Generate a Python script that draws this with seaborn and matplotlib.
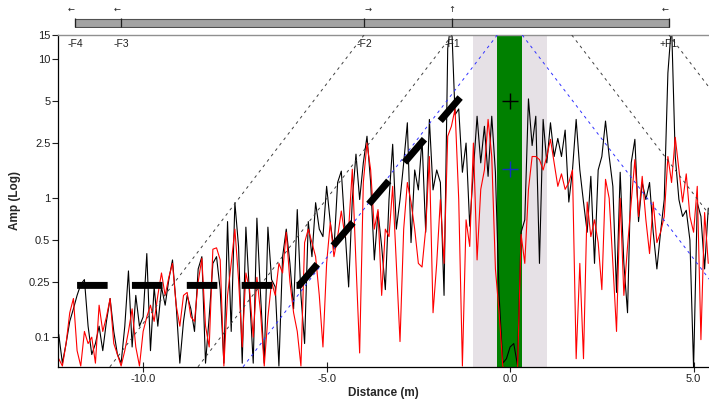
import matplotlib
matplotlib.use("Agg")
import matplotlib.pyplot as plt
import matplotlib.transforms as mtransforms
from matplotlib.ticker import FixedLocator, NullLocator
import numpy as np
import pandas as pd
import seaborn as sns

# amplitude, one value every 0.1 m from -12.3 m
amp_black = [
    0.105, 0.065, 0.09, 0.13, 0.16, 0.2, 0.24, 0.26, 0.12, 0.075,
    0.09, 0.12, 0.08, 0.13, 0.19, 0.11, 0.075, 0.065, 0.12, 0.3,
    0.085, 0.2, 0.12, 0.14, 0.4, 0.08, 0.23, 0.12, 0.23, 0.17,
    0.26, 0.36, 0.17, 0.065, 0.13, 0.2, 0.16, 0.11, 0.31, 0.38,
    0.065, 0.14, 0.34, 0.38, 0.22, 0.065, 0.68, 0.11, 0.93, 0.45,
    0.065, 0.62, 0.2, 0.065, 0.72, 0.2, 0.065, 0.62, 0.26, 0.23,
    0.062, 0.38, 0.6, 0.34, 0.16, 0.83, 0.2, 0.09, 0.68, 0.38,
    0.93, 0.6, 0.53, 1.22, 0.67, 0.43, 1.3, 1.57, 0.6, 0.23,
    0.98, 2.08, 0.98, 1.8, 2.8, 1.3, 0.36, 0.8, 0.45, 0.22,
    0.98, 2.45, 0.6, 0.98, 1.8, 3.5, 0.48, 1.6, 1.15, 2.66,
    0.57, 3.7, 1.15, 1.6, 1.3, 0.2, 12.0, 20.0, 4.0, 4.4,
    1.54, 2.5, 0.63, 1.6, 3.9, 1.8, 3.3, 1.44, 3.9, 1.54,
    0.2, 0.065, 0.07, 0.085, 0.09, 0.063, 0.57, 0.7, 5.2, 2.4,
    3.9, 0.34, 3.7, 1.8, 3.5, 2.0, 2.7, 2.0, 3.1, 0.94,
    1.6, 3.7, 1.6, 0.94, 0.57, 1.44, 0.34, 1.6, 2.0, 3.6,
    2.0, 1.22, 0.21, 1.54, 0.34, 0.15, 1.8, 2.66, 0.68, 1.3,
    0.98, 1.3, 0.57, 0.31, 0.57, 0.98, 8.0, 18.0, 2.0, 0.98,
    0.74, 0.82, 0.5, 0.06, 0.93, 0.74, 0.31, 0.85,
]
amp_red = [
    0.07, 0.062, 0.09, 0.15, 0.19, 0.08, 0.062, 0.11, 0.09, 0.1,
    0.065, 0.17, 0.11, 0.14, 0.19, 0.09, 0.075, 0.062, 0.08, 0.11,
    0.16, 0.085, 0.062, 0.11, 0.14, 0.17, 0.13, 0.2, 0.29, 0.2,
    0.27, 0.34, 0.17, 0.12, 0.2, 0.21, 0.14, 0.13, 0.25, 0.37,
    0.12, 0.085, 0.43, 0.44, 0.36, 0.062, 0.2, 0.34, 0.6, 0.26,
    0.085, 0.29, 0.22, 0.1, 0.27, 0.15, 0.062, 0.14, 0.25, 0.2,
    0.34, 0.29, 0.57, 0.25, 0.15, 0.11, 0.062, 0.48, 0.6, 0.48,
    0.38, 0.2, 0.085, 0.34, 0.67, 0.38, 0.53, 0.81, 0.53, 0.6,
    1.62, 0.34, 0.077, 1.3, 2.5, 1.6, 0.6, 0.83, 0.2, 0.6,
    0.53, 1.22, 0.34, 0.093, 0.6, 1.3, 0.94, 0.6, 0.34, 0.32,
    0.6, 2.0, 0.15, 0.34, 0.98, 0.34, 2.8, 3.3, 4.4, 0.98,
    0.062, 0.7, 0.45, 2.5, 0.36, 1.16, 1.6, 3.7, 2.0, 0.31,
    0.15, 0.062, 0.055, 0.055, 0.055, 0.055, 0.55, 0.34, 1.16, 2.0,
    2.0, 1.9, 1.6, 2.0, 2.66, 1.8, 1.22, 1.5, 1.16, 1.3,
    1.6, 0.07, 0.34, 0.07, 0.94, 0.53, 0.7, 0.48, 0.22, 1.37,
    1.0, 0.34, 0.11, 1.0, 0.2, 0.45, 0.94, 1.9, 0.74, 1.44,
    0.7, 0.4, 0.94, 0.48, 0.57, 0.74, 2.0, 1.3, 2.75, 1.6,
    0.94, 1.5, 0.74, 0.57, 1.22, 0.096, 0.79, 0.34,
]
distance = np.round(-12.3 + 0.1 * np.arange(len(amp_black)), 2)

features = ["-F4", "-F3", "-F2", "-F1", "+F1"]
feature_x = [-11.85, -10.6, -3.98, -1.58, 4.33]
feature_arrows = ["\u2190", "\u2190", "\u2192", "\u2191", "\u2190"]

# attenuation guides: start at top of axis, fall off at `decay` decades per metre
decay = 0.345
guide_black = [(-3.98, -1), (-1.58, -1), (1.68, 1), (4.33, 1)]
guide_blue = [(-0.35, -1), (0.33, 1)]

thresh_x = [-11.8, -5.75, -1.28]
thresh_y = [0.236, 0.236, 5.63]

marker_black = (0.0, 5.0)
marker_blue = (0.0, 1.62)

window = (-1.0, 1.0)
core = (-0.35, 0.33)

ytick_vals = [0.1, 0.25, 0.5, 1, 2.5, 5, 10, 15]
ytick_labels = ["0.1", "0.25", "0.5", "1", "2.5", "5", "10", "15"]
xtick_vals = [-10, -5, 0, 5]
xtick_labels = ["-10.0", "-5.0", "0.0", "5.0"]

ylo, yhi = 0.061, 15
xlo, xhi = -12.32, 5.42

sns.set_theme(style="white")
plt.rcParams["font.family"] = ["Liberation Sans", "DejaVu Sans"]

fig = plt.figure(figsize=(7.09, 4.0), dpi=100)
L, R = 58 / 709, 1.0
ax = fig.add_axes([L, 33 / 400, R - L, 332 / 400])

ax.axvspan(*window, color="#e6e1e6", lw=0, zorder=0.5)
ax.axvspan(*core, color="#008000", lw=0, zorder=0.6)

df = pd.DataFrame({
    "distance": np.concatenate([distance, distance]),
    "amp": amp_black + amp_red,
    "trace": ["black"] * len(amp_black) + ["red"] * len(amp_red),
})
sns.lineplot(data=df, x="distance", y="amp", hue="trace",
             palette={"black": "#000000", "red": "#ff0000"},
             estimator=None, sort=False, linewidth=0.8, legend=False,
             ax=ax, zorder=2)

span = np.log10(yhi / ylo) / decay
for guides, col in [(guide_black, "#404040"), (guide_blue, "#3030ff")]:
    for x0, d in guides:
        ax.plot([x0, x0 + d * span], [yhi, ylo], color=col, lw=0.7,
                linestyle=(0, (3.0, 4.0)), zorder=3)

ax.plot(thresh_x, thresh_y, color="black", lw=5, linestyle=(0, (4.4, 3.5)),
        dash_capstyle="butt", solid_joinstyle="miter", zorder=4)

ax.plot(*marker_black, marker="+", ms=11, mew=1, color="black", zorder=5)
ax.plot(*marker_blue, marker="+", ms=11, mew=1, color="#1030c0", zorder=5)

ax.set_yscale("log")
ax.set_ylim(ylo, yhi)
ax.set_xlim(xlo, xhi)
ax.yaxis.set_major_locator(FixedLocator(ytick_vals))
ax.yaxis.set_minor_locator(NullLocator())
ax.set_yticklabels(ytick_labels)
ax.set_xticks(xtick_vals)
ax.set_xticklabels(xtick_labels)
ax.xaxis.set_minor_locator(NullLocator())
ax.tick_params(axis="y", left=True, direction="out", length=4, width=0.8,
               pad=1.5, labelsize=8, colors="#202020")
ax.tick_params(axis="x", bottom=True, direction="inout", length=7, width=0.8,
               pad=1.5, labelsize=8, colors="#202020")
ax.set_ylabel("Amp (Log)", fontsize=8.5, fontweight="bold", labelpad=6)
ax.set_xlabel("Distance (m)", fontsize=8.5, fontweight="bold", labelpad=2)

for s in ["left", "bottom"]:
    ax.spines[s].set_color("black")
    ax.spines[s].set_linewidth(0.9)
ax.spines["top"].set_color("#909090")
ax.spines["top"].set_linewidth(1.0)
ax.spines["right"].set_visible(False)
ax.grid(False)

trans = mtransforms.blended_transform_factory(ax.transData, ax.transAxes)
for name, fx in zip(features, feature_x):
    ax.text(fx, 0.973, name, transform=trans, ha="center", va="center",
            fontsize=7.5, color="#202020", zorder=6)

# feature bar above the plot
axb = fig.add_axes([L, 1 - 28 / 400, R - L, 28 / 400], sharex=ax)
axb.set_ylim(28, 0)
axb.axis("off")
axb.bar(feature_x[0], 8, width=feature_x[-1] - feature_x[0], bottom=18.5,
        align="edge", color="#a3a3a3", edgecolor="#505050", linewidth=0.8)
axb.vlines(feature_x, 17.5, 26.5, color="#202020", lw=0.9)
for arrow, fx in zip(feature_arrows, feature_x):
    off = {"\u2190": -0.1, "\u2192": 0.1, "\u2191": 0.0}[arrow]
    axb.text(fx + off, 9, arrow, ha="center", va="center", fontsize=6,
             color="#202020", family=["DejaVu Sans"])

fig.savefig("out.png", dpi=100)
